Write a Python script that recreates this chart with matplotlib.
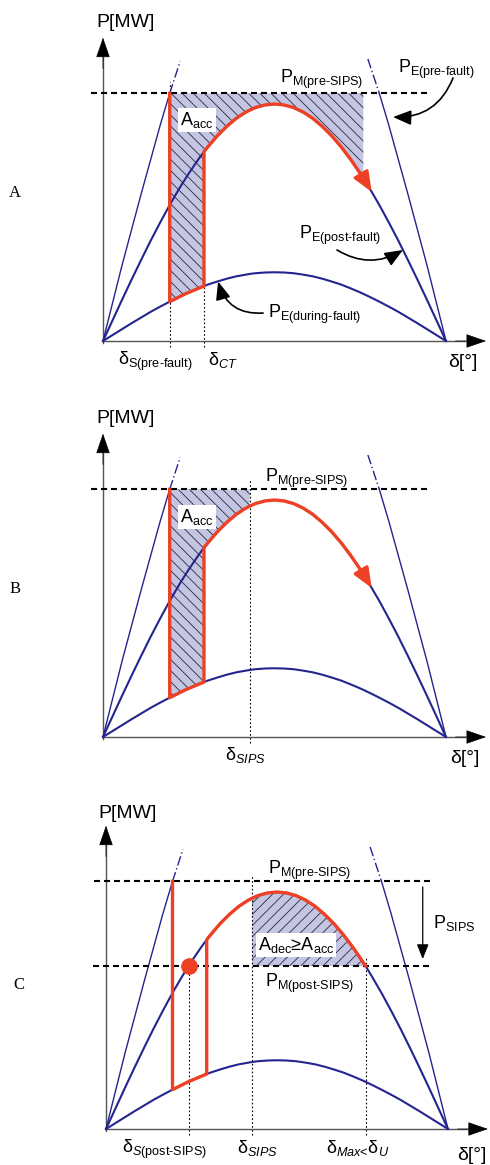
import numpy as np
import matplotlib.pyplot as plt

plt.rcParams['font.family'] = ['Liberation Sans', 'DejaVu Sans']
plt.rcParams['mathtext.fontset'] = 'custom'
plt.rcParams['mathtext.rm'] = 'Liberation Sans'
plt.rcParams['mathtext.it'] = 'Liberation Sans:italic'
plt.rcParams['mathtext.bf'] = 'Liberation Sans:bold'
plt.rcParams['hatch.linewidth'] = 0.6

# load angle [deg] and curve heights (post-fault peak = 1)
delta = np.array([0, 5, 10, 15, 20, 25, 30, 35, 40, 43.5, 45, 50, 53, 55, 60, 65, 70, 75, 77, 80,
                  85, 90, 95, 100, 105, 110, 115, 120, 125, 130, 135, 136.6, 140, 141, 145, 150,
                  155, 160, 165, 170, 175, 180])
p_post = np.array([0, 0.087, 0.174, 0.259, 0.342, 0.423, 0.500, 0.574, 0.643, 0.688, 0.707, 0.766,
                   0.799, 0.819, 0.866, 0.906, 0.940, 0.966, 0.974, 0.985, 0.996, 1.000, 0.996,
                   0.985, 0.966, 0.940, 0.906, 0.866, 0.819, 0.766, 0.707, 0.688, 0.643, 0.629,
                   0.574, 0.500, 0.423, 0.342, 0.259, 0.174, 0.087, 0])
p_during = np.array([0, 0.025, 0.050, 0.075, 0.099, 0.123, 0.145, 0.166, 0.186, 0.200, 0.205, 0.222,
                     0.232, 0.238, 0.251, 0.263, 0.273, 0.280, 0.283, 0.286, 0.289, 0.290, 0.289,
                     0.286, 0.280, 0.273, 0.263, 0.251, 0.238, 0.222, 0.205, 0.199, 0.186, 0.182,
                     0.166, 0.145, 0.123, 0.099, 0.075, 0.050, 0.025, 0])
delta_pre = np.array([0, 10, 20, 30, 35, 40.5, 139, 145, 150, 160, 170, 180])
p_pre = np.array([0, 0.32, 0.62, 0.91, 1.045, 1.18, 1.19, 1.045, 0.91, 0.62, 0.32, 0])

pm_pre_sips = 1.045
pm_post_sips = 0.688

d_s_pre = 35
d_ct = 53
d_s_post = 43.5
d_sips = 77
d_max = 136.6
d_end = 141

BLUE = '#24248f'
RED = '#ee4024'
FILL = '#c3c5e2'
HATCH = '#2a2a3a'

W, H, YS = 490, 1165, 237.0
fig = plt.figure(figsize=(W / 100, H / 100), dpi=100)


def panel(top, bottom, x0, xs, y0):
    ax = fig.add_axes([0, 1 - bottom / H, 1, (bottom - top) / H])
    ax.set_xlim(-x0 / xs, (W - x0) / xs)
    ax.set_ylim(-(bottom - y0) / YS, (y0 - top) / YS)
    ax.axis('off')
    return ax


def at(arr, d):
    return arr[delta == d][0]


def base(ax, letter, ly, py, dy):
    ax.plot([0, 0], [-0.01, 1.2], color='#555555', lw=1.0, zorder=2)
    ax.plot([0, 190], [0, 0], color='#555555', lw=1.0, zorder=2)
    head = dict(arrowstyle='-|>,head_length=1.3,head_width=0.45', color='black',
                lw=0.5, shrinkA=0, shrinkB=0, mutation_scale=10)
    ax.annotate('', xy=(0, 1.28), xytext=(0, 1.15), arrowprops=head)
    ax.annotate('', xy=(201, 0), xytext=(185, 0), arrowprops=head)
    # pre-fault curve, dash-dot above the mechanical power line
    m = (delta_pre <= 35)
    ax.plot(delta_pre[m], p_pre[m], color=BLUE, lw=1.0, zorder=2)
    m = (delta_pre >= 145)
    ax.plot(delta_pre[m], p_pre[m], color=BLUE, lw=1.0, zorder=2)
    m = (delta_pre >= 35) & (delta_pre <= 40.5)
    ax.plot(delta_pre[m], p_pre[m], color=BLUE, lw=1.0, ls=(0, (7, 2, 1, 2)), zorder=2)
    m = (delta_pre >= 139) & (delta_pre <= 145)
    ax.plot(delta_pre[m], p_pre[m], color=BLUE, lw=1.0, ls=(0, (7, 2, 1, 2)), zorder=2)
    ax.plot(delta, p_post, color=BLUE, lw=1.5, zorder=2)
    ax.plot(delta, p_during, color=BLUE, lw=1.5, zorder=2)
    ax.plot([-6.5, 170.5], [pm_pre_sips, pm_pre_sips], color='black', lw=1.5,
            ls=(0, (2.9, 1.9)), zorder=3)
    ax.text(py[0], py[1], 'P[MW]', fontsize=14, ha='center', va='center')
    ax.text(dy[0], dy[1], 'δ[°]', fontsize=14, ha='left', va='baseline')
    ax.text(-46, ly, letter, fontsize=12, family='Liberation Serif', ha='center', va='center')


def trajectory(ax, d_stop, arrow):
    m_dur = (delta >= d_s_pre) & (delta <= d_ct)
    m_post = (delta >= d_ct) & (delta <= d_stop)
    xs = np.concatenate([[d_s_pre], delta[m_dur], delta[m_post]])
    ys = np.concatenate([[pm_pre_sips], p_during[m_dur], p_post[m_post]])
    ax.plot(xs, ys, color=RED, lw=2.4, zorder=4, solid_joinstyle='round')
    if arrow:
        ax.annotate('', xy=(d_end, at(p_post, d_end)), xytext=(d_max, at(p_post, d_max)),
                    arrowprops=dict(arrowstyle='-|>,head_length=1.2,head_width=0.5', color=RED,
                                    lw=2.2, shrinkA=0, shrinkB=0, mutation_scale=10), zorder=4)


def acc_area(ax, d_stop):
    m_dur = (delta >= d_s_pre) & (delta <= d_ct)
    m_post = (delta >= d_ct) & (delta <= d_stop)
    xs = np.concatenate([[d_s_pre, d_stop], delta[m_post][::-1], delta[m_dur][::-1]])
    ys = np.concatenate([[pm_pre_sips, pm_pre_sips], p_post[m_post][::-1], p_during[m_dur][::-1]])
    ax.fill(xs, ys, facecolor=FILL, edgecolor=HATCH, hatch='\\\\\\', lw=0, zorder=1)


def dotted(ax, d, lo, hi):
    ax.plot([d, d], [lo, hi], color='black', lw=0.8, ls=(0, (1.5, 2)), zorder=1.5)


def curved(ax, start, end, rad, hl=1.1, hw=0.45):
    ax.annotate('', xy=end, xytext=start,
                arrowprops=dict(arrowstyle=f'-|>,head_length={hl},head_width={hw}', color='black',
                                lw=1.2, shrinkA=0, shrinkB=0, mutation_scale=10,
                                connectionstyle=f'arc3,rad={rad}'))


box = dict(facecolor='white', edgecolor='none', pad=1.5)

# ---- A ----
ax = panel(0, 390, 103, 1.9056, 341)
acc_area(ax, d_max)
base(ax, 'A', 0.624, (12, 1.344), (181, -0.108))
trajectory(ax, d_max, True)
dotted(ax, d_s_pre, -0.025, 1.093)
dotted(ax, d_ct, -0.025, at(p_during, d_ct))
ax.text(92.9, 1.089, r'P$_{\text{M(pre-SIPS)}}$', fontsize=13, va='baseline')
ax.text(154.8, 1.131, r'P$_{\text{E(pre-fault)}}$', fontsize=13, va='baseline')
ax.text(102.9, 0.430, r'P$_{\text{E(post-fault)}}$', fontsize=13, va='baseline')
ax.text(86.6, 0.097, r'P$_{\text{E(during-fault)}}$', fontsize=13, va='baseline')
ax.text(40.5, 0.911, r'A$_{\text{acc}}$', fontsize=13, va='baseline', bbox=box, zorder=6)
ax.text(7.9, -0.101, r'δ$_{\text{S(pre-fault)}}$', fontsize=13, va='baseline')
ax.text(55.1, -0.101, r'δ$_{CT}$', fontsize=13, va='baseline')
curved(ax, (183.7, 1.110), (152.2, 0.945), -0.35)
curved(ax, (122.8, 0.384), (157.4, 0.384), 0.3)
curved(ax, (84, 0.118), (60.4, 0.251), -0.4)

# ---- B ----
ax = panel(390, 780, 103, 1.9056, 737)
acc_area(ax, d_sips)
base(ax, 'B', 0.624, (12, 1.345), (182, -0.11))
trajectory(ax, d_max, True)
dotted(ax, d_sips, -0.025, 1.084)
ax.text(85, 1.077, r'P$_{\text{M(pre-SIPS)}}$', fontsize=13, va='baseline')
ax.text(40.5, 0.908, r'A$_{\text{acc}}$', fontsize=13, va='baseline', bbox=box, zorder=6)
ax.text(64, -0.097, r'δ$_{SIPS}$', fontsize=13, va='baseline')

# ---- C ----
ax = panel(780, 1165, 106, 1.9, 1129)
m = (delta >= d_sips) & (delta <= d_max)
ax.fill_between(delta[m], pm_post_sips, p_post[m], facecolor=FILL, edgecolor=HATCH,
                hatch='///', lw=0, zorder=1)
base(ax, 'C', 0.608, (11.6, 1.333), (185, -0.131))
ax.plot([-6.8, 170.5], [pm_post_sips, pm_post_sips], color='black', lw=1.5,
        ls=(0, (2.9, 1.9)), zorder=3)
trajectory(ax, d_max, False)
ax.plot([d_s_post], [at(p_post, d_s_post)], 'o', color=RED, ms=11, zorder=5)
dotted(ax, d_s_post, -0.025, 0.72)
dotted(ax, d_sips, -0.025, 1.072)
dotted(ax, d_max, -0.025, 0.72)
ax.annotate('', xy=(166.7, 0.717), xytext=(166.7, 1.021),
            arrowprops=dict(arrowstyle='-|>,head_length=0.9,head_width=0.36', color='black',
                            lw=0.9, shrinkA=0, shrinkB=0, mutation_scale=10))
ax.text(85.3, 1.076, r'P$_{\text{M(pre-SIPS)}}$', fontsize=13, va='baseline')
ax.text(83.7, 0.600, r'P$_{\text{M(post-SIPS)}}$', fontsize=13, va='baseline')
ax.text(80, 0.755, r'A$_{\text{dec}}$≥A$_{\text{acc}}$', fontsize=13, va='baseline', bbox=box, zorder=6)
ax.text(172, 0.848, r'P$_{\text{SIPS}}$', fontsize=13, va='baseline')
ax.text(8.4, -0.101, r'δ$_{S\text{(post-SIPS)}}$', fontsize=13, va='baseline')
ax.text(68.8, -0.101, r'δ$_{SIPS}$', fontsize=13, va='baseline')
ax.text(116, -0.101, r'δ$_{Max\text{<}}$δ$_{U}$', fontsize=13, va='baseline')

fig.savefig('out.png', dpi=100)
